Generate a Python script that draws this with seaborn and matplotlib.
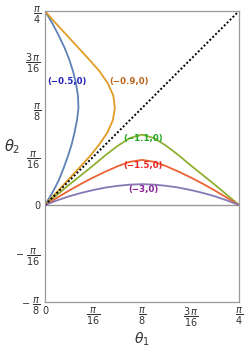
import numpy as np
import pandas as pd
import matplotlib
matplotlib.use("Agg")
import matplotlib.pyplot as plt
import seaborn as sns

# values in units of pi/16 (theta1 = u*pi/16, theta2 = v*pi/16)
loop_v = [0, 0.25, 0.5, 0.75, 1.0, 1.25, 1.5, 1.75, 2.0, 2.25, 2.5, 2.75, 3.0, 3.25, 3.5, 3.75, 4]
blue_u = [0, 0.15, 0.28, 0.38, 0.47, 0.55, 0.61, 0.66, 0.69, 0.68, 0.64, 0.58, 0.50, 0.40, 0.28, 0.15, 0]
orange_u = [0, 0.23, 0.46, 0.69, 0.92, 1.12, 1.29, 1.40, 1.44, 1.41, 1.30, 1.13, 0.91, 0.68, 0.45, 0.22, 0]

arc_u = [0, 0.25, 0.5, 0.75, 1.0, 1.25, 1.5, 1.75, 2.0, 2.25, 2.5, 2.75, 3.0, 3.25, 3.5, 3.75, 4]
green_v = [0, 0.21, 0.42, 0.62, 0.82, 1.03, 1.22, 1.38, 1.45, 1.38, 1.22, 1.03, 0.82, 0.62, 0.42, 0.21, 0]
red_v = [0, 0.15, 0.30, 0.44, 0.57, 0.69, 0.80, 0.89, 0.93, 0.89, 0.80, 0.69, 0.57, 0.44, 0.30, 0.15, 0]
purple_v = [0, 0.095, 0.18, 0.25, 0.31, 0.36, 0.395, 0.42, 0.43, 0.42, 0.395, 0.36, 0.31, 0.25, 0.18, 0.095, 0]

labels = ["(\u22120.5,0)", "(\u22120.9,0)", "(\u22121.1,0)", "(\u22121.5,0)", "(\u22123,0)"]
label_pos_u = [0.45, 1.73, 2.02, 2.02, 2.02]
label_pos_v = [2.55, 2.55, 1.38, 0.81, 0.31]

line_colors = ["#5E81B5", "#E19C24", "#8FB032", "#EB6235", "#8778B3"]
label_colors = ["#2424B8", "#B8661C", "#22A822", "#E8221E", "#8A2096"]

yticks_u = [4, 3, 2, 1, 0, -1, -2]
ytick_labels = [r"$\dfrac{\pi}{4}$", r"$\dfrac{3\,\pi}{16}$", r"$\dfrac{\pi}{8}$",
                r"$\dfrac{\pi}{16}$", "0", r"$-\ \dfrac{\pi}{16}$", r"$-\ \dfrac{\pi}{8}$"]
xticks_u = [0, 1, 2, 3, 4]
xtick_labels = ["0", r"$\dfrac{\pi}{16}$", r"$\dfrac{\pi}{8}$", r"$\dfrac{3\,\pi}{16}$", r"$\dfrac{\pi}{4}$"]

sns.set_style("white")
plt.rcParams["mathtext.fontset"] = "dejavusans"
plt.rcParams["font.family"] = ["DejaVu Sans"]

k = np.pi / 16
fig = plt.figure(figsize=(2.45, 3.51), dpi=100)
ax = fig.add_axes([45 / 245, 1 - 302 / 351, 194 / 245, 291 / 351])

curves = [(blue_u, loop_v), (orange_u, loop_v), (arc_u, green_v), (arc_u, red_v), (arc_u, purple_v)]
for (us, vs), c in zip(curves, line_colors):
    df = pd.DataFrame({"x": np.array(us) * k, "y": np.array(vs) * k})
    sns.lineplot(data=df, x="x", y="y", sort=False, estimator=None, color=c, lw=1.3, ax=ax)

diag = pd.DataFrame({"x": [0, 4 * k], "y": [0, 4 * k]})
sns.lineplot(data=diag, x="x", y="y", sort=False, estimator=None, color="black",
             lw=1.4, linestyle=(0, (1, 1.1)), ax=ax)

ax.axhline(0, color="#999999", lw=1.0, zorder=0)

for t, u, v, c in zip(labels, label_pos_u, label_pos_v, label_colors):
    ax.text(u * k, v * k, t, color=c, fontsize=6.2, fontweight="bold", ha="center", va="center")

ax.set_xlim(0, 4 * k)
ax.set_ylim(-2 * k, 4 * k)
ax.set_yticks(np.array(yticks_u) * k)
ax.set_yticklabels(ytick_labels)
ax.set_xticks(np.array(xticks_u) * k)
ax.set_xticklabels(xtick_labels)
ax.tick_params(direction="in", length=3, width=0.8, color="#999999", labelsize=7,
               labelcolor="#333333", pad=3)
for s in ax.spines.values():
    s.set_color("#999999")
    s.set_linewidth(0.9)
ax.set_xlabel(r"$\theta_1$", fontsize=10, color="#333333", labelpad=1)
ax.set_ylabel(r"$\theta_2$", fontsize=10.5, color="#333333", rotation=0, labelpad=6)
ax.yaxis.set_label_coords(-0.17, 0.5)

fig.savefig("out.png", dpi=100)
